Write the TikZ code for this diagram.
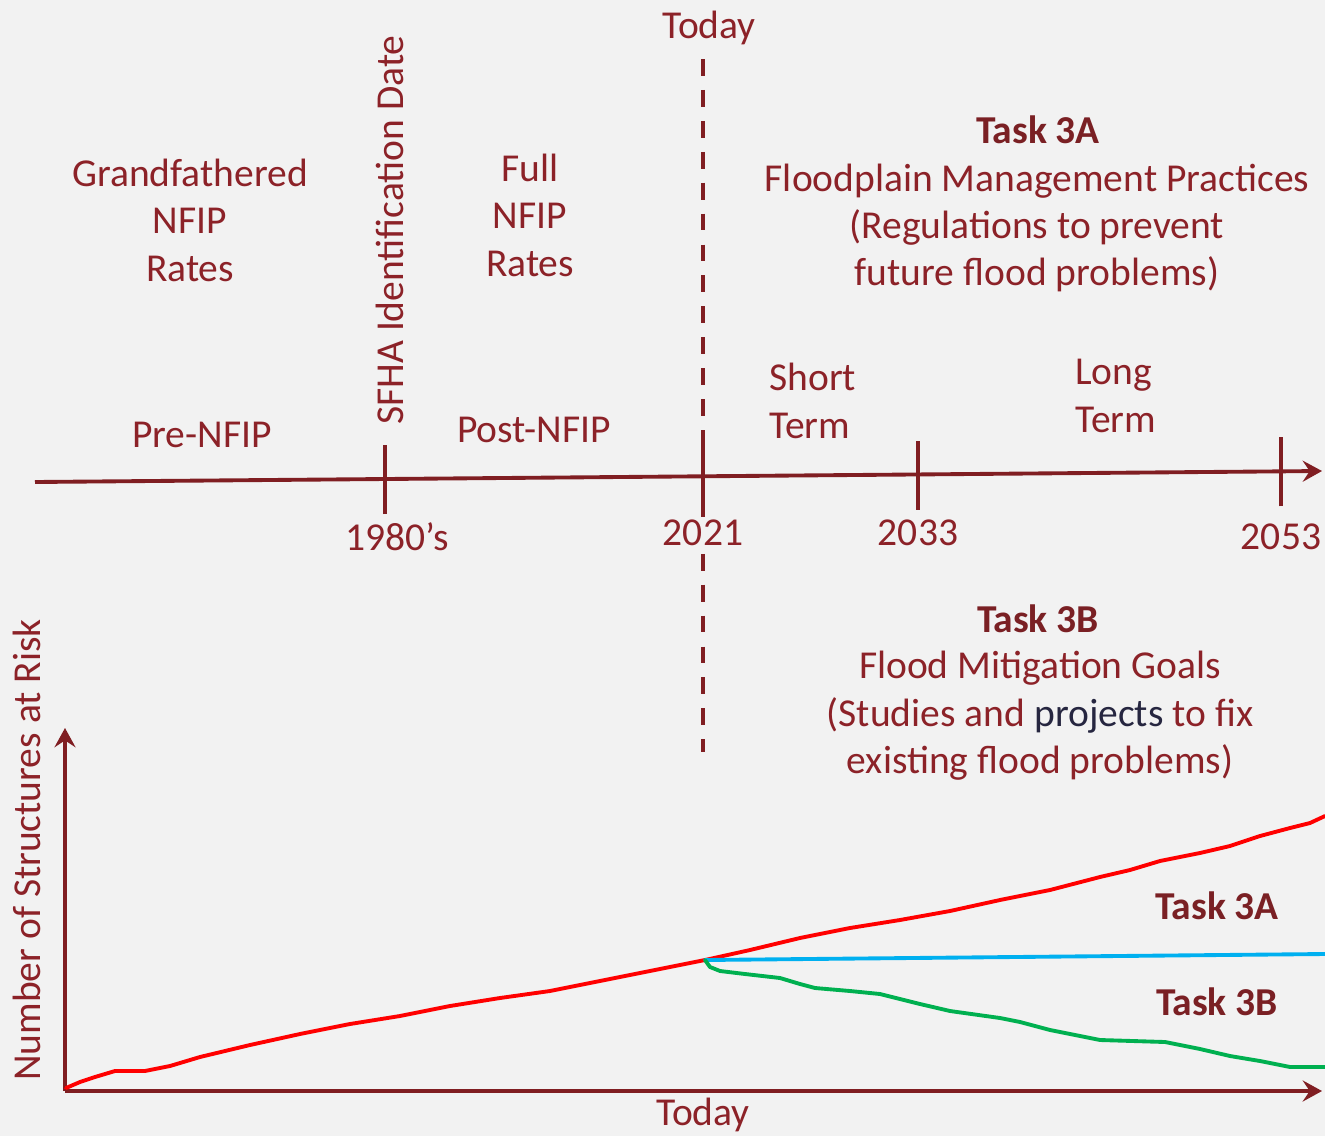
\documentclass[tikz,border=0pt]{standalone}
\usepackage{fontspec}
\setmainfont{Carlito}
\usetikzlibrary{arrows.meta}
\definecolor{maroon}{RGB}{140,34,40}
\definecolor{darkmaroon}{RGB}{122,32,36}
\definecolor{linemaroon}{RGB}{128,30,34}
\definecolor{navy}{RGB}{38,38,64}
\definecolor{bg}{RGB}{242,242,242}
\definecolor{skyblue}{RGB}{0,176,240}
\definecolor{riskred}{RGB}{255,0,0}
\definecolor{mitgreen}{RGB}{0,176,80}

\begin{document}
\begin{tikzpicture}[x=0.02cm, y=-0.02cm, >={Stealth[length=11pt,width=12pt,inset=4pt]}]
    \tikzstyle{lbl}=[text=maroon,font=\fontsize{22.5}{27}\selectfont,align=center,inner sep=0pt]
    \tikzstyle{task}=[lbl,text=darkmaroon,font=\fontsize{22.5}{27}\selectfont\bfseries]
    \tikzstyle{axis}=[draw=linemaroon,line width=2.2pt]
    \tikzstyle{tick}=[draw=linemaroon,line width=2.2pt]
    \tikzstyle{curve}=[line width=2.2pt,line join=round,line cap=round]
    \useasboundingbox[fill=bg] (0,0) rectangle (1325,1136);
    % today marker
    \node[lbl] (today) at (709,28) {Today};
    \coordinate (dtop) at (703,59);
    \coordinate (dbot) at (703,752);
    \draw[draw=linemaroon,line width=2.2pt,dash pattern=on 9.6pt off 8pt] (dtop) -- (dbot);
    % timeline
    \coordinate (tstart) at (35,482);
    \coordinate (tend) at (1322,471);
    \coordinate (t1980) at (385,479);
    \coordinate (t2021) at (703,476.3);
    \coordinate (t2033) at (918,474.5);
    \coordinate (t2053) at (1281,471.3);
    \draw[axis,->] (tstart) -- (tend);
    \foreach \t in {t1980,t2033,t2053}
      \draw[tick] ([yshift=-35*0.02cm]\t) -- ([yshift=34*0.02cm]\t);
    \draw[tick] ([yshift=-44*0.02cm]t2021) -- ([yshift=32*0.02cm]t2021);
    \node[lbl] (y1980) at (397,537) {1980’s};
    \node[lbl,fill=bg,inner sep=2pt] (y2021) at (703,533) {2021};
    \node[lbl] (y2033) at (918,533) {2033};
    \node[lbl] (y2053) at (1281,537) {2053};
    % periods
    \node[lbl] (grand) at (190,220) {Grandfathered\\NFIP\\Rates};
    \node[lbl] (pre) at (202,435) {Pre-NFIP};
    \node[lbl,rotate=90] (sfha) at (390,230) {SFHA Identification Date};
    \node[lbl] (full) at (530,215) {Full\\NFIP\\Rates};
    \node[lbl] (post) at (534,430) {Post-NFIP};
    \node[lbl,align=left,anchor=west] (short) at (769,401) {Short\\Term};
    \node[lbl,align=left,anchor=west] (long) at (1075,396) {Long\\Term};
    % tasks
    \node[task] (task3a) at (1038,130) {Task 3A};
    \node[lbl] (t3atext) at (1037,228) {Floodplain Management Practices\\(Regulations to prevent\\future flood problems)};
    \node[task] (task3b) at (1038,619) {Task 3B};
    \node[lbl] (t3btext) at (1040,716) {Flood Mitigation Goals\\(Studies and {\color{navy}projects} to fix\\existing flood problems)};
    % chart
    \coordinate (origin) at (65,1091);
    \coordinate (ytop) at (65,728);
    \coordinate (xend) at (1322,1091);
    \draw[axis,->] (origin) -- (ytop);
    \draw[axis,->] (origin) -- (xend);
    \node[lbl,rotate=90] (ylabel) at (27,850) {Number of Structures at Risk};
    \node[lbl] (xtoday) at (703,1115) {Today};
    \node[task] (lbl3a) at (1217,906) {Task 3A};
    \node[task] (lbl3b) at (1217,1002) {Task 3B};
    \coordinate (split) at (705,960);
    \draw[curve,riskred] (66,1088) -- (80,1082) -- (95,1077) -- (115,1071) -- (145,1071) -- (170,1066)
      -- (200,1057) -- (250,1045) -- (300,1034) -- (350,1024) -- (400,1016) -- (450,1006)
      -- (500,998) -- (550,991) -- (600,981) -- (650,971) -- (split) -- (750,950) -- (800,938)
      -- (850,928) -- (900,920) -- (950,911) -- (1000,900) -- (1050,890) -- (1100,877)
      -- (1130,870) -- (1160,861) -- (1200,853) -- (1230,846) -- (1260,836) -- (1290,828)
      -- (1310,823) -- (1325,816);
    \draw[curve,skyblue] (split) -- (1325,954);
    \draw[curve,mitgreen] (split) -- (710,967) -- (720,971) -- (745,974) -- (780,978) -- (800,984)
      -- (815,988) -- (850,991) -- (880,994) -- (920,1004) -- (950,1011) -- (1000,1018)
      -- (1020,1022) -- (1050,1030) -- (1100,1040) -- (1165,1042) -- (1200,1049)
      -- (1230,1056) -- (1260,1061) -- (1290,1067) -- (1325,1067);
\end{tikzpicture}
\end{document}
